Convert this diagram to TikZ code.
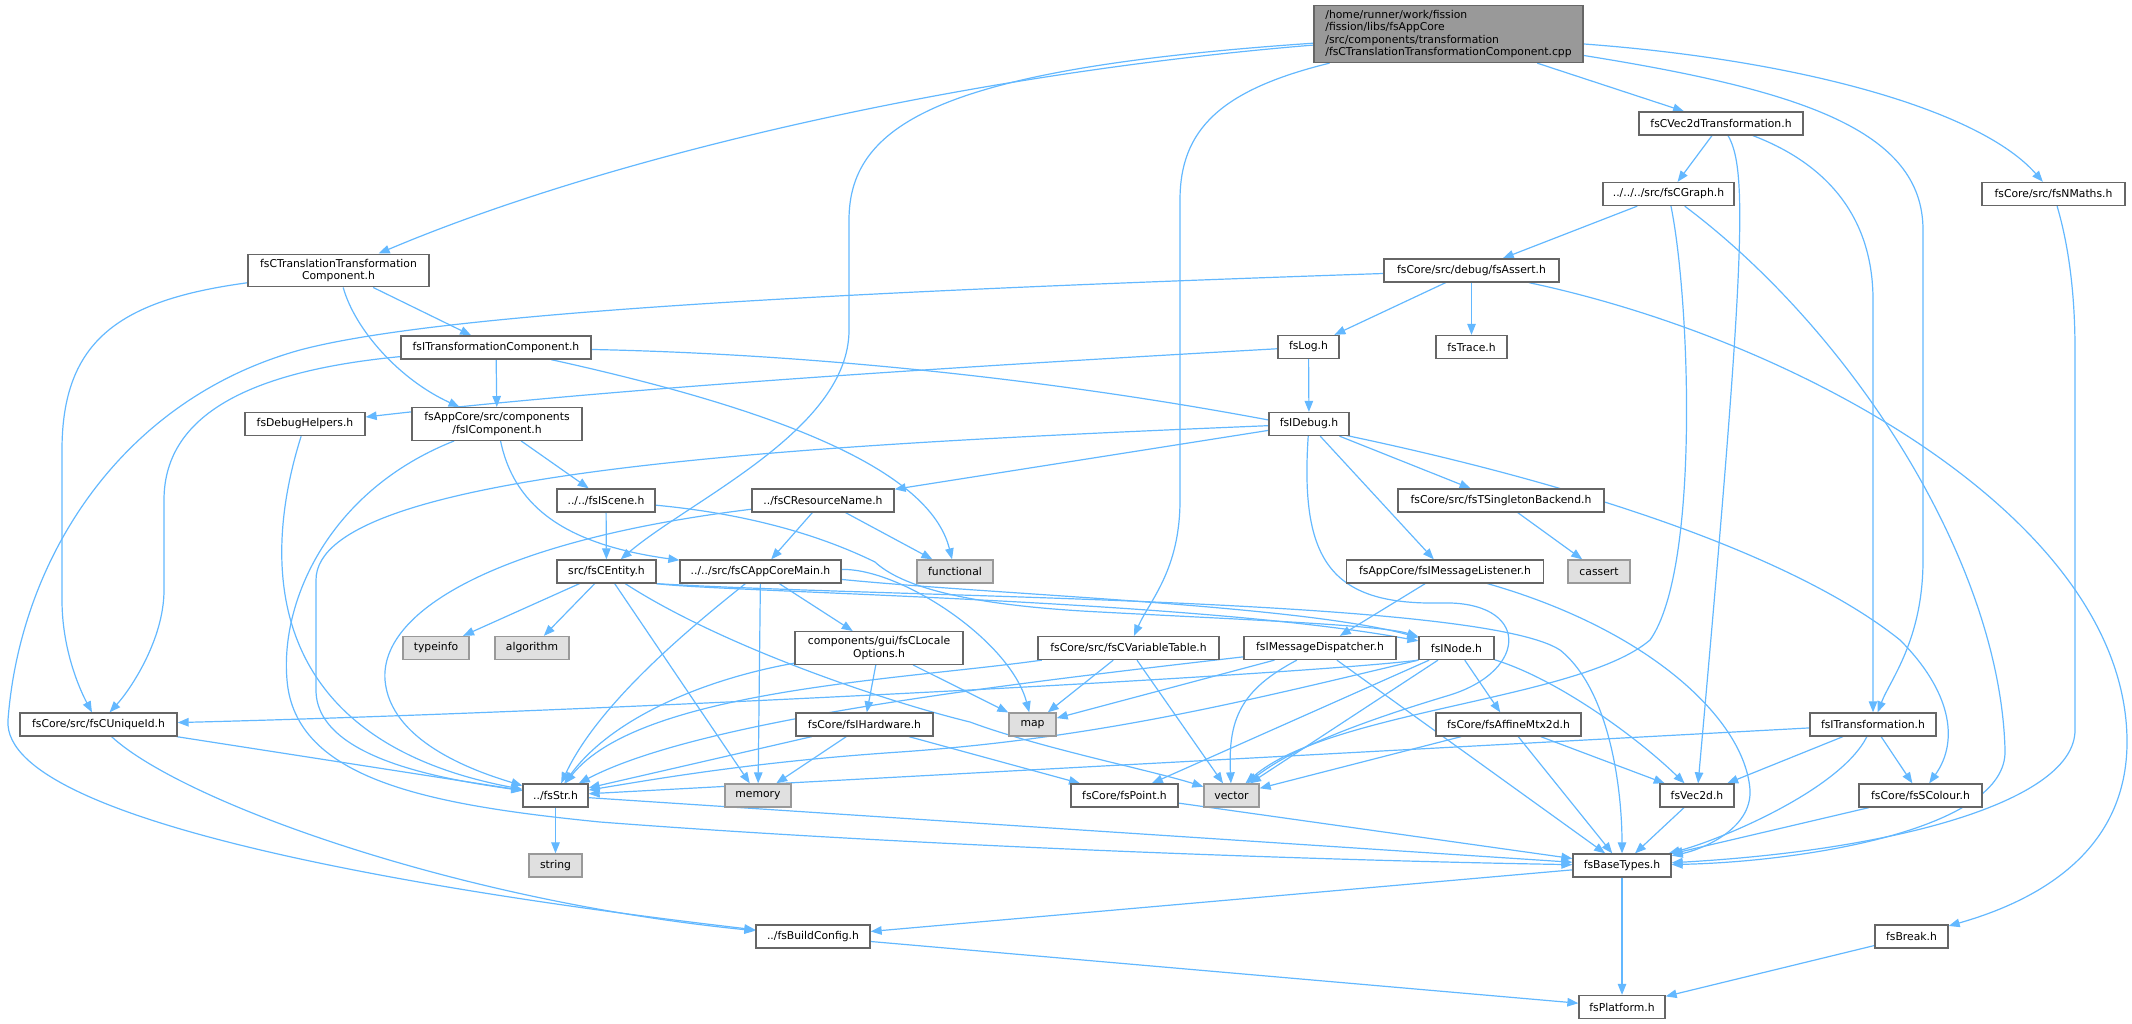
\documentclass[tikz,border=0pt]{standalone}
\usepackage{fontspec}
\setmainfont{DejaVu Sans}
\usetikzlibrary{arrows.meta,backgrounds}
\definecolor{edgeblue}{HTML}{63B8FF}
\definecolor{boxline}{HTML}{666666}
\definecolor{sysline}{HTML}{999999}
\definecolor{sysfill}{HTML}{E0E0E0}
\definecolor{rootfill}{HTML}{999999}

\begin{document}
\begin{tikzpicture}[x=1pt,y=-1pt,
 file/.style={draw=boxline,line width=1.3pt,fill=white,inner xsep=3pt,inner ysep=5pt,
   minimum height=23pt,align=center,font=\fontsize{10.8}{12.2}\selectfont},
 sysfile/.style={file,draw=sysline,fill=sysfill},
 rootfile/.style={file,fill=rootfill,align=left},
 wd/.style={minimum width=#1pt},
 inc/.style={draw=edgeblue,line width=1.2pt,-{Triangle[length=11pt,width=8.5pt]}}]
\useasboundingbox (0,0) rectangle (2132,1024);

 \node[rootfile,wd=269] (main) at (1448.5,34) {/home/runner/work/fission\\/fission/libs/fsAppCore\\/src/components/transformation\\/fsCTranslationTransformationComponent.cpp};
 \node[file,wd=181] (ctrans) at (338.5,270.5) {fsCTranslationTransformation\\Component.h};
 \node[file,wd=164] (cvectr) at (1721,123.5) {fsCVec2dTransformation.h};
 \node[file,wd=131] (cgraph) at (1668.5,194) {../../../src/fsCGraph.h};
 \node[file,wd=143] (nmaths) at (2053.5,194) {fsCore/src/fsNMaths.h};
 \node[file,wd=175] (assert) at (1471.5,270.5) {fsCore/src/debug/fsAssert.h};
 \node[file,wd=190] (itrcomp) at (496,347.5) {fsITransformationComponent.h};
 \node[file,wd=61] (log) at (1308.5,347) {fsLog.h};
 \node[file,wd=71] (trace) at (1471.5,347) {fsTrace.h};
 \node[file,wd=120] (dbghelp) at (305,424) {fsDebugHelpers.h};
 \node[file,wd=170] (icomp) at (497,424) {fsAppCore/src/components\\/fsIComponent.h};
 \node[file,wd=80] (idebug) at (1309,424) {fsIDebug.h};
 \node[file,wd=98] (iscene) at (606,500.5) {../../fsIScene.h};
 \node[file,wd=142] (resname) at (823,500.5) {../fsCResourceName.h};
 \node[file,wd=206] (singleton) at (1501,500.5) {fsCore/src/fsTSingletonBackend.h};
 \node[file,wd=99] (centity) at (606.5,571.5) {src/fsCEntity.h};
 \node[file,wd=161] (appmain) at (760.5,571.5) {../../src/fsCAppCoreMain.h};
 \node[sysfile,wd=76] (functional) at (955,571.5) {functional};
 \node[file,wd=197] (listener) at (1445,571.5) {fsAppCore/fsIMessageListener.h};
 \node[sysfile,wd=62] (cassert) at (1599,571.5) {cassert};
 \node[sysfile,wd=66] (typeinfo) at (436,648) {typeinfo};
 \node[sysfile,wd=74] (algorithm) at (532,648) {algorithm};
 \node[file,wd=168] (locale) at (879,648) {components/gui/fsCLocale\\Options.h};
 \node[file,wd=181] (vartable) at (1128.5,648) {fsCore/src/fsCVariableTable.h};
 \node[file,wd=152] (dispatcher) at (1320,648) {fsIMessageDispatcher.h};
 \node[file,wd=75] (inode) at (1456.5,648) {fsINode.h};
 \node[file,wd=157] (uniqueid) at (98.5,724.5) {fsCore/src/fsCUniqueId.h};
 \node[file,wd=137] (hardware) at (864.5,724.5) {fsCore/fsIHardware.h};
 \node[sysfile,wd=47] (map) at (1032.5,724.5) {map};
 \node[file,wd=145] (affine) at (1508.5,724.5) {fsCore/fsAffineMtx2d.h};
 \node[file,wd=126] (itransf) at (1873,724.5) {fsITransformation.h};
 \node[file,wd=65] (str) at (555.5,795.5) {../fsStr.h};
 \node[sysfile,wd=66] (memory) at (758,795.5) {memory};
 \node[file,wd=107] (point) at (1124.5,795.5) {fsCore/fsPoint.h};
 \node[sysfile,wd=55] (vector) at (1231.5,795.5) {vector};
 \node[file,wd=74] (vec2d) at (1697,795.5) {fsVec2d.h};
 \node[file,wd=123] (colour) at (1920.5,795.5) {fsCore/fsSColour.h};
 \node[sysfile,wd=53] (string) at (555.5,865.5) {string};
 \node[file,wd=98] (basetypes) at (1622,865.5) {fsBaseTypes.h};
 \node[file,wd=114] (buildcfg) at (813,936.5) {../fsBuildConfig.h};
 \node[file,wd=73] (break) at (1911.5,936.5) {fsBreak.h};
 \node[file,wd=86] (platform) at (1622,1007) {fsPlatform.h};

\begin{scope}[on background layer]
 % the .cpp itself
 \draw[inc] (main) .. controls (950,75) and (600,160) .. (ctrans);
 \draw[inc] (main) .. controls (950,68) and (849,120) .. (849,220) -- (849,330) .. controls (849,430) and (690,500) .. (centity);
 \draw[inc] (main) .. controls (1220,90) and (1180,130) .. (1180,200) -- (1180,500) .. controls (1180,570) and (1150,600) .. (vartable);
 \draw[inc] (main) -- (cvectr);
 \draw[inc] (main) .. controls (1800,90) and (1923,130) .. (1923,230) -- (1923,560) .. controls (1923,640) and (1890,680) .. (itransf);
 \draw[inc] (main) .. controls (1800,60) and (1980,110) .. (nmaths);

 \draw[inc] (ctrans) -- (itrcomp);
 \draw[inc] (ctrans) .. controls (355,330) and (400,380) .. (icomp);
 \draw[inc] (ctrans) .. controls (120,300) and (62,340) .. (62,450) -- (62,600) .. controls (62,650) and (80,690) .. (uniqueid);

 \draw[inc] (itrcomp) -- (icomp);
 \draw[inc] (itrcomp) .. controls (260,370) and (164,410) .. (164,500) -- (164,590) .. controls (164,640) and (130,690) .. (uniqueid);
 \draw[inc] (itrcomp) .. controls (780,410) and (930,470) .. (functional);
 \draw[inc] (itrcomp) .. controls (1100,360) and (1700,480) .. (1900,640) .. controls (1950,690) and (1960,740) .. (colour);

 \draw[inc] (cvectr) -- (cgraph);
 \draw[inc] (cvectr) .. controls (1748,170) and (1745,260) .. (vec2d);
 \draw[inc] (cvectr) .. controls (1830,165) and (1873,220) .. (1873,300) -- (itransf);

 \draw[inc] (cgraph) -- (assert);
 \draw[inc] (cgraph) .. controls (1690,300) and (1700,570) .. (1650,640) .. controls (1580,700) and (1330,710) .. (vector);
 \draw[inc] (cgraph) .. controls (1850,330) and (2000,560) .. (2005,750) .. controls (2008,830) and (1800,862) .. (basetypes);
 \draw[inc] (nmaths) .. controls (2070,250) and (2075,300) .. (2075,350) -- (2075,730) .. controls (2075,800) and (1900,850) .. (basetypes);

 \draw[inc] (assert) -- (log);
 \draw[inc] (assert) -- (trace);
 \draw[inc] (assert) .. controls (1800,340) and (2125,520) .. (2127,740) .. controls (2128,850) and (2040,900) .. (break);
 \draw[inc] (assert) .. controls (900,290) and (450,310) .. (300,350) .. controls (120,400) and (20,560) .. (8,720) .. controls (0,830) and (500,900) .. (buildcfg);

 \draw[inc] (log) -- (idebug);
 \draw[inc] (log) .. controls (900,370) and (600,390) .. (dbghelp);

 \draw[inc] (idebug) -- (resname);
 \draw[inc] (idebug) .. controls (800,445) and (316,470) .. (316,580) -- (316,690) .. controls (316,760) and (450,780) .. (str);
 \draw[inc] (idebug) -- (singleton);
 \draw[inc] (idebug) -- (listener);
 \draw[inc] (idebug) .. controls (1300,560) and (1330,605) .. (1440,603) .. controls (1530,600) and (1530,670) .. (1450,695) .. controls (1350,725) and (1290,750) .. (vector);

 \draw[inc] (singleton) -- (cassert);
 \draw[inc] (listener) -- (dispatcher);
 \draw[inc] (listener) .. controls (1650,630) and (1745,720) .. (1750,790) .. controls (1752,830) and (1700,850) .. (basetypes);

 \draw[inc] (resname) -- (appmain);
 \draw[inc] (resname) -- (functional);
 \draw[inc] (resname) .. controls (500,540) and (380,610) .. (385,680) .. controls (390,740) and (470,770) .. (str);

 \draw[inc] (icomp) -- (iscene);
 \draw[inc] (icomp) .. controls (515,510) and (570,545) .. (appmain);
 \draw[inc] (icomp) .. controls (330,490) and (280,600) .. (287,680) .. controls (295,780) and (430,805) .. (600,822) .. controls (900,845) and (1300,860) .. (basetypes);

 \draw[inc] (iscene) -- (centity);
 \draw[inc] (iscene) .. controls (760,515) and (830,540) .. (875,562) .. controls (900,585) and (960,605) .. (1100,612) .. controls (1250,620) and (1380,625) .. (inode);

 \draw[inc] (centity) -- (typeinfo);
 \draw[inc] (centity) -- (algorithm);
 \draw[inc] (centity) -- (memory);
 \draw[inc] (centity) .. controls (720,645) and (880,700) .. (970,722) .. controls (1040,748) and (1150,770) .. (vector);
 \draw[inc] (centity.south east) .. controls (720,592) and (1200,600) .. (inode);
 \draw[inc] (centity.south east) .. controls (900,598) and (1480,598) .. (1560,650) .. controls (1610,690) and (1622,790) .. (basetypes);

 \draw[inc] (appmain) .. controls (700,620) and (600,700) .. (str);
 \draw[inc] (appmain) -- (memory);
 \draw[inc] (appmain) -- (locale);
 \draw[inc] (appmain) .. controls (900,568) and (1010,640) .. (map);
 \draw[inc] (appmain) .. controls (1000,595) and (1300,605) .. (inode);

 \draw[inc] (locale) -- (hardware);
 \draw[inc] (locale) -- (map);
 \draw[inc] (locale) .. controls (700,680) and (610,720) .. (str);

 \draw[inc] (hardware) -- (str);
 \draw[inc] (hardware) -- (memory);
 \draw[inc] (hardware) -- (point);

 \draw[inc] (vartable) .. controls (900,680) and (640,690) .. (str);
 \draw[inc] (vartable) -- (map);
 \draw[inc] (vartable) -- (vector);

 \draw[inc] (dispatcher) .. controls (1000,685) and (700,720) .. (str);
 \draw[inc] (dispatcher) -- (map);
 \draw[inc] (dispatcher) .. controls (1240,690) and (1228,720) .. (vector);
 \draw[inc] (dispatcher) -- (basetypes);

 \draw[inc] (inode.south west) .. controls (1300,675) and (600,712) .. (uniqueid);
 \draw[inc] (inode.south west) .. controls (1250,700) and (1100,738) .. (900,752) .. controls (750,762) and (650,780) .. (str);
 \draw[inc] (inode) -- (point);
 \draw[inc] (inode) -- (vector);
 \draw[inc] (inode) -- (affine);
 \draw[inc] (inode) .. controls (1560,680) and (1640,740) .. (vec2d);

 \draw[inc] (affine) -- (vector);
 \draw[inc] (affine) -- (vec2d);
 \draw[inc] (affine) -- (basetypes);

 \draw[inc] (itransf) -- (str);
 \draw[inc] (itransf) -- (vec2d);
 \draw[inc] (itransf) .. controls (1840,790) and (1720,840) .. (basetypes);
 \draw[inc] (itransf) -- (colour);

 \draw[inc] (colour) -- (basetypes);
 \draw[inc] (vec2d) -- (basetypes);
 \draw[inc] (point) -- (basetypes);
 \draw[inc] (str) -- (string);
 \draw[inc] (str) -- (basetypes);
 \draw[inc] (uniqueid) -- (str);
 \draw[inc] (uniqueid) .. controls (180,800) and (450,900) .. (buildcfg);
 \draw[inc] (dbghelp) .. controls (262,560) and (260,740) .. (str);
 \draw[inc] (basetypes) -- (platform);
 \draw[inc] (basetypes) -- (buildcfg);
 \draw[inc] (buildcfg) -- (platform);
 \draw[inc] (break) -- (platform);
\end{scope}
\end{tikzpicture}
\end{document}
